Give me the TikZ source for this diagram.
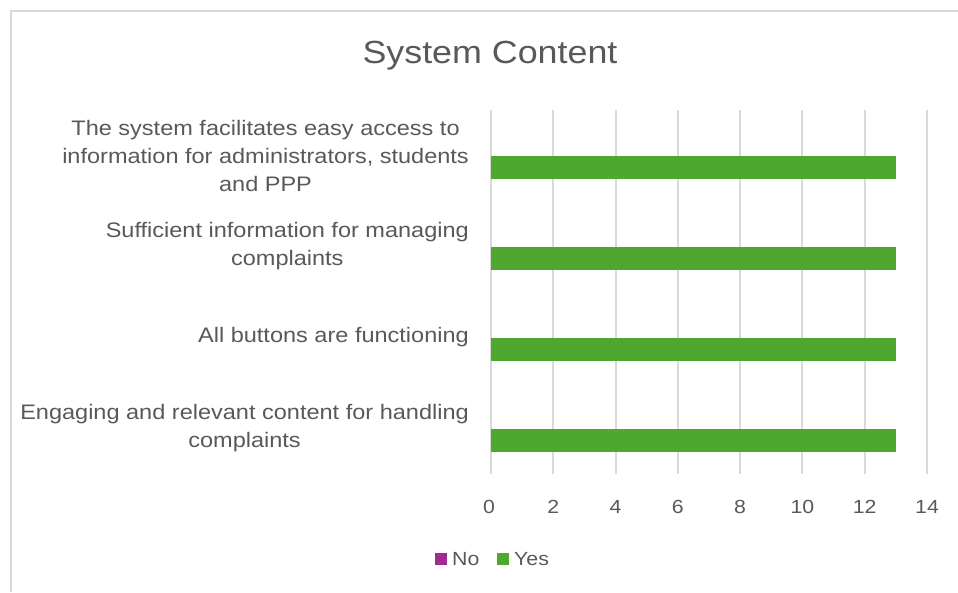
\documentclass[tikz,border=0pt]{standalone}
\usepackage{fontspec}
\setmainfont{Liberation Sans}[FakeStretch=1.12]
\usepackage{xcolor}
\definecolor{cframe}{HTML}{D9D9D9}
\definecolor{cgrid}{HTML}{D9D9D9}
\definecolor{ctext}{HTML}{595959}
\definecolor{cyes}{HTML}{4EA72E}
\definecolor{cno}{HTML}{A02B93}

\begin{document}
\begin{tikzpicture}[x=1pt, y=-1pt,
	catlabel/.style={anchor=east, align=center, inner sep=0pt, text=ctext, font=\fontsize{21}{28}\selectfont},
	ticklabel/.style={anchor=center, inner sep=0pt, text=ctext, font=\fontsize{19}{22}\selectfont},
	legkey/.style={anchor=west, inner sep=0pt, text=ctext, font=\fontsize{19}{22}\selectfont}]
		\useasboundingbox (0,0) rectangle (958,592);
		\fill[white] (0,0) rectangle (958,592);
		\draw[color=cframe, line width=2pt] (11,592) -- (11,11) -- (958,11);
		\node[inner sep=0pt, text=ctext, font=\fontsize{32}{36}\selectfont] (title) at (490,56) {System Content};
		% grid
		\draw[color=cgrid, line width=2pt] (491,110) -- (491,474);
		\draw[color=cgrid, line width=2pt] (553.3,110) -- (553.3,474);
		\draw[color=cgrid, line width=2pt] (615.6,110) -- (615.6,474);
		\draw[color=cgrid, line width=2pt] (677.9,110) -- (677.9,474);
		\draw[color=cgrid, line width=2pt] (740.1,110) -- (740.1,474);
		\draw[color=cgrid, line width=2pt] (802.4,110) -- (802.4,474);
		\draw[color=cgrid, line width=2pt] (864.7,110) -- (864.7,474);
		\draw[color=cgrid, line width=2pt] (927,110) -- (927,474);
		% bars
		\fill[color=cyes] (491,156) rectangle (896,179);
		\fill[color=cyes] (491,247) rectangle (896,270);
		\fill[color=cyes] (491,338) rectangle (896,361);
		\fill[color=cyes] (491,429) rectangle (896,452);
		% categories
		\node[catlabel] (cat1) at (469,155.5) {The system facilitates easy access to\\information for administrators, students\\and PPP};
		\node[catlabel] (cat2) at (469,246.5) {Sufficient information for managing\\complaints};
		\node[catlabel] (cat3) at (469,337.5) {All buttons are functioning};
		\node[catlabel] (cat4) at (469,428.5) {Engaging and relevant content for handling\\complaints};
		% axis
		\node[ticklabel] (t0) at (489,507) {0};
		\node[ticklabel] (t2) at (553.3,507) {2};
		\node[ticklabel] (t4) at (615.6,507) {4};
		\node[ticklabel] (t6) at (677.9,507) {6};
		\node[ticklabel] (t8) at (740.1,507) {8};
		\node[ticklabel] (t10) at (802.4,507) {10};
		\node[ticklabel] (t12) at (864.7,507) {12};
		\node[ticklabel] (t14) at (927,507) {14};
		% legend
		\fill[color=cno] (435,553) rectangle (447,565);
		\node[legkey] (lno) at (452,559) {No};
		\fill[color=cyes] (497,553) rectangle (509,565);
		\node[legkey] (lyes) at (514,559) {Yes};
	\end{tikzpicture}
\end{document}
